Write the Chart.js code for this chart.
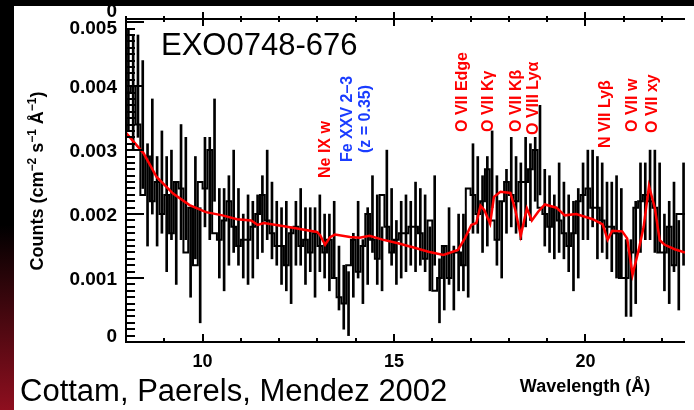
<!DOCTYPE html>
<html>
<head>
<meta charset="utf-8">
<script src="https://cdn.jsdelivr.net/npm/chart.js@4.4.1/dist/chart.umd.min.js"></script>
<style>
  html, body { margin: 0; padding: 0; background: #000; }
  #wrap { width: 694px; height: 410px; }
</style>
</head>
<body>
<div id="wrap"><canvas id="spec" width="694" height="410"></canvas></div>
<script>
// RGS spectrum, 0.125 A bins from 8 A
const binStart = 8.0;
const binWidth = 0.125;

const counts = [
  0.0041, 0.0039, 0.0040, 0.0034, 0.0023, 0.0029, 0.0022, 0.0025, 0.0020, 0.0023,
  0.0017, 0.0025, 0.0024, 0.0014, 0.0021, 0.0012, 0.0025, 0.0024, 0.0030, 0.0017,
  0.0016, 0.0019, 0.0022, 0.0018, 0.0015, 0.0016, 0.0016, 0.0018, 0.0020, 0.0023,
  0.0019, 0.0017, 0.0015, 0.0015, 0.0012, 0.0017, 0.0018, 0.0015, 0.0016, 0.0014,
  0.0017, 0.0015, 0.0014, 0.0016, 0.0010, 0.0007, 0.0006, 0.0012, 0.0016, 0.0011,
  0.0015, 0.0020, 0.0016, 0.0013, 0.0023, 0.0018, 0.0014, 0.0016, 0.0017, 0.0017,
  0.0018, 0.0018, 0.0017, 0.0013, 0.0019, 0.0008, 0.0010, 0.0015, 0.0010, 0.0014,
  0.0014, 0.0012, 0.0024, 0.0023, 0.0020, 0.0022, 0.0027, 0.0019, 0.0016, 0.0022,
  0.0025, 0.0023, 0.0022, 0.0025, 0.0025, 0.0027, 0.0030, 0.0021, 0.0020, 0.0018,
  0.0021, 0.0019, 0.0017, 0.0015, 0.0017, 0.0022, 0.0023, 0.0024, 0.0021, 0.0021,
  0.0019, 0.0018, 0.0018, 0.0017, 0.0010, 0.0010, 0.0014, 0.0021, 0.0022, 0.0023,
  0.0022, 0.0021, 0.0014, 0.0014, 0.0018, 0.0012, 0.0020
];

const countErrors = [
  0.0008, 0.0009, 0.0008, 0.0010, 0.0008, 0.0009, 0.0007, 0.0008, 0.0009, 0.0007,
  0.0008, 0.0009, 0.0008, 0.0007, 0.0008, 0.0009, 0.0007, 0.0008, 0.0008, 0.0007,
  0.0008, 0.0007, 0.0008, 0.0006, 0.0005, 0.0007, 0.0006, 0.0005, 0.0006, 0.0007,
  0.0006, 0.0005, 0.0006, 0.0007, 0.0006, 0.0005, 0.0006, 0.0006, 0.0005, 0.0007,
  0.0006, 0.0005, 0.0006, 0.0006, 0.0005, 0.0005, 0.0005, 0.0005, 0.0006, 0.0005,
  0.0006, 0.0006, 0.0007, 0.0005, 0.0007, 0.0006, 0.0005, 0.0006, 0.0006, 0.0005,
  0.0007, 0.0006, 0.0006, 0.0005, 0.0007, 0.0005, 0.0005, 0.0006, 0.0005, 0.0006,
  0.0006, 0.0005, 0.0007, 0.0006, 0.0006, 0.0007, 0.0006, 0.0007, 0.0006, 0.0005,
  0.0007, 0.0006, 0.0006, 0.0007, 0.0006, 0.0005, 0.0007, 0.0006, 0.0006, 0.0005,
  0.0007, 0.0006, 0.0006, 0.0007, 0.0007, 0.0006, 0.0007, 0.0006, 0.0008, 0.0007,
  0.0006, 0.0007, 0.0008, 0.0007, 0.0006, 0.0006, 0.0008, 0.0007, 0.0006, 0.0007,
  0.0008, 0.0007, 0.0006, 0.0008, 0.0007, 0.0007, 0.0008
];

// model curve (red)
const modelWave = [
  8.0, 8.46, 8.8, 9.23, 9.66, 10.09, 10.52, 10.9, 11.27, 11.44,
  11.6, 12.13, 12.99, 13.07, 13.2, 13.33, 13.46, 13.85, 14.1, 14.36,
  14.7, 15.13, 15.56, 15.9, 16.29, 16.67, 16.85, 17.02, 17.15, 17.26,
  17.36, 17.51, 17.61, 17.78, 18.04, 18.17, 18.31, 18.47, 18.6, 18.77,
  18.94, 19.24, 19.46, 19.76, 20.19, 20.45, 20.58, 20.7, 20.96, 21.09,
  21.23, 21.39, 21.52, 21.66, 21.81, 21.94, 22.07, 22.33, 22.6
];
const modelFlux = [
  0.00327, 0.00295, 0.00258, 0.00232, 0.00214, 0.00203, 0.00198, 0.00192, 0.0019, 0.00183,
  0.00186, 0.00181, 0.00172, 0.00167, 0.00152, 0.00164, 0.00168, 0.00164, 0.00163, 0.00166,
  0.0016, 0.00154, 0.00147, 0.00141, 0.00136, 0.00144, 0.00162, 0.00183, 0.00186, 0.00213,
  0.00206, 0.00185, 0.00227, 0.00235, 0.00233, 0.00206, 0.00166, 0.00209, 0.0019, 0.00204,
  0.00215, 0.0021, 0.00198, 0.002, 0.00192, 0.00184, 0.0016, 0.00174, 0.00173, 0.00162,
  0.00105, 0.00144, 0.0018, 0.00244, 0.0021, 0.00159, 0.00152, 0.00145, 0.0014
];

const xTickValues = [10, 15, 20];
const xTickLabels = ['10', '15', '20'];
const yTickValues = [0, 0.001, 0.002, 0.003, 0.004, 0.005];
const yTickLabels = ['0', '0.001', '0.002', '0.003', '0.004', '0.005'];

// line identifications
const lineNames = ['Ne IX w', 'Fe XXV 2–3', '(z = 0.35)', 'O VII Edge', 'O VII Kγ',
                   'O VII Kβ', 'O VIII Lyα', 'N VII Lyβ', 'O VII w', 'O VII xy'];
const lineWaves = [13.17, 13.76, 14.22, 16.77, 17.43, 18.18, 18.62, 20.49, 21.21, 21.73];

const RED = '#ff0000';
const BLUE = '#1a3cff';
const FONT = '"Liberation Sans", Arial, Helvetica, sans-serif';
const labelColors = [RED, BLUE, BLUE, RED, RED, RED, RED, RED, RED, RED];
const labelBottoms = [178, 162, 153, 132, 132, 132, 135, 148, 132, 133];

// histogram edges -> stepped line
const histPoints = [];
for (let i = 0; i <= counts.length; i++) {
  histPoints.push({ x: binStart + i * binWidth, y: counts[Math.min(i, counts.length - 1)] });
}
const errPoints = counts.map((c, i) => ({
  x: binStart + (i + 0.5) * binWidth,
  y: [c - countErrors[i], c + countErrors[i]]
}));
const modelPoints = modelWave.map((w, i) => ({ x: w, y: modelFlux[i] }));

function matchLabel(v, vals, labels) {
  for (let k = 0; k < vals.length; k++) {
    if (Math.abs(v - vals[k]) < 1e-9) return labels[k];
  }
  return '';
}

// superscript-aware text for the y title
function drawYTitle(ctx, cx, cy) {
  const parts = [
    ['Counts (cm', false], ['−2', true], [' s', false], ['−1', true],
    [' Å', false], ['−1', true], [')', false]
  ];
  const big = 'bold 18px ' + FONT, small = 'bold 12px ' + FONT;
  let total = 0;
  parts.forEach(p => { ctx.font = p[1] ? small : big; total += ctx.measureText(p[0]).width; });
  ctx.save();
  ctx.translate(cx, cy);
  ctx.rotate(-Math.PI / 2);
  ctx.textAlign = 'left';
  ctx.textBaseline = 'alphabetic';
  let x = -total / 2;
  parts.forEach(p => {
    ctx.font = p[1] ? small : big;
    ctx.fillText(p[0], x, p[1] ? -1 : 6.4);
    x += ctx.measureText(p[0]).width;
  });
  ctx.restore();
}

const frame = {
  id: 'frame',
  beforeDraw(chart) {
    const ctx = chart.ctx;
    ctx.save();
    ctx.fillStyle = '#000';
    ctx.fillRect(0, 0, 694, 410);
    const g = ctx.createLinearGradient(0, 225, 0, 410);
    g.addColorStop(0, '#000000');
    g.addColorStop(1, '#8e0f1f');
    ctx.fillStyle = g;
    ctx.fillRect(0, 225, 14, 185);
    ctx.fillStyle = '#fff';
    ctx.fillRect(14, 6, 680, 404);
    ctx.restore();
  },
  afterDraw(chart) {
    const ctx = chart.ctx;
    const xs = chart.scales.x, ys = chart.scales.y;
    const { left, right, top, bottom } = chart.chartArea;
    ctx.save();
    ctx.strokeStyle = '#000';
    ctx.lineWidth = 2;
    ctx.beginPath();
    ctx.moveTo(left, top); ctx.lineTo(right, top);
    ctx.moveTo(left, top); ctx.lineTo(left, bottom); ctx.lineTo(right, bottom);
    // x ticks, bottom (inward) and top (crossing)
    for (let w = 8; w <= 22; w++) {
      const px = Math.round(xs.getPixelForValue(w));
      const major = w % 5 === 0;
      ctx.moveTo(px, bottom); ctx.lineTo(px, bottom - (major ? 8 : 4));
      ctx.moveTo(px, top - (major ? 7 : 3)); ctx.lineTo(px, top + (major ? 7 : 3));
    }
    // y ticks
    for (let k = 0; k <= 50; k++) {
      const py = Math.round(ys.getPixelForValue(k * 0.0001));
      ctx.moveTo(left, py); ctx.lineTo(left + (k % 10 === 0 ? 18 : 9), py);
    }
    ctx.stroke();

    // y tick labels
    ctx.fillStyle = '#000';
    ctx.font = 'bold 19px ' + FONT;
    ctx.textAlign = 'right';
    ctx.textBaseline = 'alphabetic';
    yTickValues.forEach((v, k) => {
      const py = Math.min(Math.max(ys.getPixelForValue(v), top + 8), bottom - 7);
      ctx.fillText(yTickLabels[k], 117, py + 6.8);
    });
    ctx.fillText('0', 117, 17.3);

    drawYTitle(ctx, 37, 181);

    ctx.textAlign = 'center';
    ctx.font = 'bold 18px ' + FONT;
    ctx.fillText('Wavelength (Å)', 585, 392);

    ctx.textAlign = 'left';
    ctx.font = '31px ' + FONT;
    ctx.fillText('EXO0748-676', 161, 55);
    ctx.fillText('Cottam, Paerels, Mendez 2002', 20, 401);

    // rotated line labels
    ctx.font = 'bold 16px ' + FONT;
    lineNames.forEach((name, k) => {
      const px = xs.getPixelForValue(lineWaves[k]);
      ctx.save();
      ctx.translate(px, labelBottoms[k]);
      ctx.rotate(-Math.PI / 2);
      ctx.fillStyle = labelColors[k];
      ctx.textAlign = 'left';
      ctx.fillText(name, 0, 5.7);
      ctx.restore();
    });

    ctx.fillStyle = '#000';
    ctx.fillRect(0, 0, 694, 6);
    ctx.restore();
  }
};

new Chart(document.getElementById('spec'), {
  type: 'line',
  data: {
    datasets: [
      {
        label: 'model',
        data: modelPoints,
        borderColor: RED,
        borderWidth: 2.5,
        pointRadius: 0,
        tension: 0,
        order: 0
      },
      {
        label: 'counts',
        data: histPoints,
        borderColor: '#000',
        borderWidth: 2,
        pointRadius: 0,
        stepped: 'after',
        order: 1
      },
      {
        type: 'bar',
        label: 'errors',
        data: errPoints,
        backgroundColor: '#000',
        borderWidth: 0,
        barThickness: 2,
        order: 2
      }
    ]
  },
  options: {
    responsive: false,
    animation: false,
    events: [],
    devicePixelRatio: 1,
    layout: { padding: { top: 19, right: 0, left: 0, bottom: 0 } },
    plugins: { legend: { display: false }, tooltip: { enabled: false } },
    scales: {
      x: {
        type: 'linear',
        position: 'bottom',
        min: 8,
        max: 22.6,
        offset: false,
        grid: { display: false, drawTicks: false },
        border: { display: false },
        ticks: {
          stepSize: 1,
          autoSkip: false,
          maxRotation: 0,
          padding: 9,
          color: '#000',
          font: { family: FONT, weight: 'bold', size: 18 },
          callback: v => matchLabel(v, xTickValues, xTickLabels)
        },
        afterFit: s => { s.height = 68; }
      },
      y: {
        type: 'linear',
        min: 0,
        max: 0.00505,
        grid: { display: false, drawTicks: false },
        border: { display: false },
        ticks: { display: false },
        afterFit: s => { s.width = 126; }
      }
    }
  },
  plugins: [frame]
});
</script>
</body>
</html>
